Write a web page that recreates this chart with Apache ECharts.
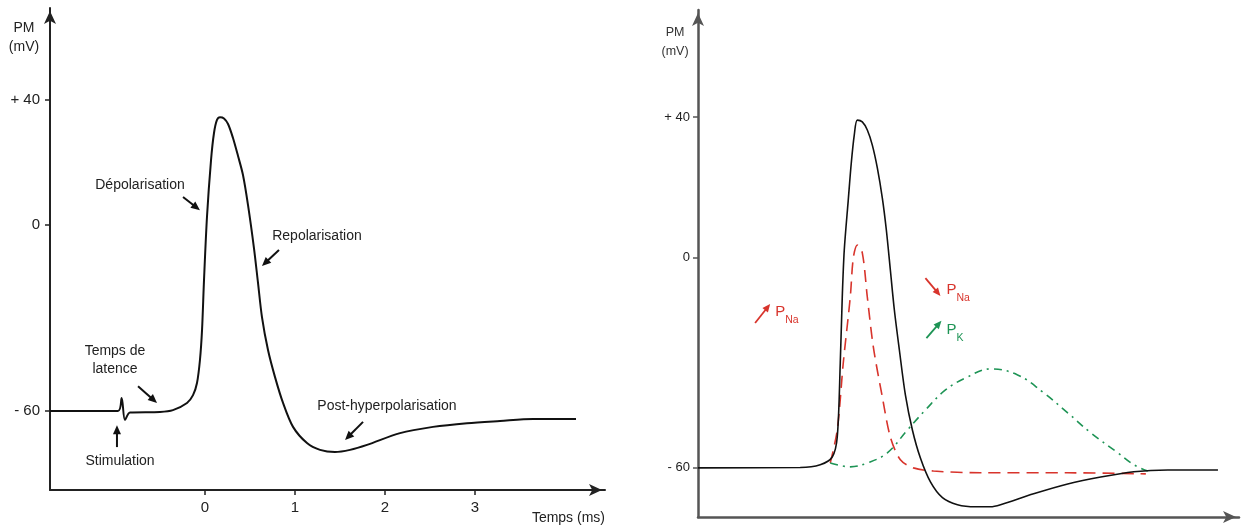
<!DOCTYPE html>
<html><head><meta charset="utf-8">
<script src="https://cdn.jsdelivr.net/npm/echarts@6/dist/echarts.min.js"></script>
<style>html,body{margin:0;padding:0;background:#fff}#c{width:1244px;height:528px}</style>
</head><body><div id="c"></div>
<script>
// ---- Left panel: action potential (time in ms, PM in mV)
const leftTime = [-1.722,-0.967,-0.926,-0.889,-0.833,-0.5,-0.356,-0.2,-0.133,-0.089,-0.056,-0.033,-0.011,0.022,0.067,0.1,0.133,0.167,0.211,0.256,0.311,0.367,0.422,0.478,0.544,0.589,0.633,0.7,0.778,0.867,0.978,1.133,1.278,1.444,1.611,1.8,2.167,2.533,2.911,3.278,3.644,4.122];
const leftPM   = [-60,-60,-55.8,-62.9,-60.5,-60.3,-59.7,-57.4,-54.9,-51.0,-43.6,-34.0,-17.9,2.4,20.7,29.4,33.6,34.5,34.1,32.3,27.8,22.0,15.9,6.2,-7.6,-18.8,-29.8,-40.4,-49.1,-57.4,-65.1,-70.3,-72.5,-73.2,-72.5,-70.9,-67.1,-65.1,-63.9,-63.2,-62.6,-62.6];
const leftXTicks = [0,1,2,3];
const yTicks = [40,0,-60];
const yTickLabels = ['+ 40','0','- 60'];

// ---- Right panel: potential and permeabilities (arbitrary time units)
const rightTime = [0,1.02,1.22,1.34,1.39,1.42,1.44,1.46,1.50,1.53,1.56,1.59,1.64,1.69,1.74,1.79,1.84,1.88,1.92,1.96,2.01,2.07,2.14,2.22,2.32,2.44,2.59,2.77,2.92,3.02,3.35,3.69,4.02,4.35,4.69,5.19];
const rightPM   = [-60,-59.9,-59.1,-56.9,-51.2,-30.1,-11.3,2.1,16.4,26.9,34.9,39.1,38.6,36.3,32.0,25.5,16.9,7.8,-3.6,-15.0,-26.4,-39.2,-49.2,-57.2,-64.0,-68.5,-70.5,-71.1,-71.1,-70.5,-67.4,-64.6,-62.6,-61.1,-60.6,-60.6];
const naTime = [1.32,1.39,1.45,1.52,1.55,1.59,1.64,1.69,1.75,1.84,1.92,2.02,2.15,2.35,2.82,3.69,4.47];
const naP    = [-58.6,-49.2,-30.1,-11.3,-0.2,3.5,1.3,-11.3,-25.5,-39.8,-51.2,-57.7,-60,-60.9,-61.4,-61.4,-61.7];
const kTime = [1.32,1.52,1.69,1.89,2.09,2.27,2.47,2.67,2.92,3.19,3.45,3.69,3.92,4.19,4.35,4.49];
const kP    = [-58.6,-59.7,-58.6,-55.7,-49.2,-43.5,-37.8,-34.4,-31.8,-33.5,-38.6,-44.3,-50.0,-55.7,-59.1,-60.9];

const FONT = '"Liberation Sans", Arial, sans-serif';
const INK = '#222';
const RED = '#d8342c';
const GREEN = '#1e9455';

const zip = (a,b) => a.map((v,i)=>[v,b[i]]);
const yLabel = v => { const i = yTicks.indexOf(v); return i>=0 ? yTickLabels[i] : ''; };

const chart = echarts.init(document.getElementById('c'), null, {renderer:'canvas'});

function yAxisCfg(grid, min, max, color, width, fs, margin){
  return {
    gridIndex:grid, type:'value', min:min, max:max,
    splitLine:{show:false},
    axisLine:{show:true, onZero:false, symbol:['none','arrow'], symbolSize:[9,13], symbolOffset:[0,-3],
      lineStyle:{color:color, width:width}},
    axisTick:{show:true, customValues:yTicks, length:5, lineStyle:{color:color, width:1.5}},
    axisLabel:{show:true, customValues:yTicks, formatter:yLabel, color:INK, fontSize:fs, fontFamily:FONT, margin:margin}
  };
}

chart.setOption({
  animation:false,
  backgroundColor:'#fff',
  grid:[{left:50, right:639, top:8, bottom:38},{left:698, right:5, top:10, bottom:11}],
  xAxis:[
    {gridIndex:0, type:'value', min:-1.722, max:4.444, splitLine:{show:false},
      axisLine:{show:true, onZero:false, symbol:['none','arrow'], symbolSize:[9,13], symbolOffset:[0,-3], lineStyle:{color:INK, width:2}},
      axisTick:{show:true, customValues:leftXTicks, length:5, lineStyle:{color:INK, width:1.5}},
      axisLabel:{show:true, customValues:leftXTicks, color:INK, fontSize:15, fontFamily:FONT, margin:10}},
    {gridIndex:1, type:'value', min:0, max:5.40, splitLine:{show:false},
      axisLine:{show:true, onZero:false, symbol:['none','arrow'], symbolSize:[9,13], symbolOffset:[0,-3], lineStyle:{color:'#555', width:2.5}},
      axisTick:{show:false}, axisLabel:{show:false}}
  ],
  yAxis:[
    yAxisCfg(0, -85.4, 69.6, INK, 2, 15, 10),
    yAxisCfg(1, -74.0, 70.5, '#555', 2.5, 13, 8)
  ],
  series:[
    {type:'line', xAxisIndex:0, yAxisIndex:0, data:zip(leftTime,leftPM), showSymbol:false, smooth:0.3,
      lineStyle:{color:'#111', width:2}},
    {type:'line', xAxisIndex:1, yAxisIndex:1, data:zip(naTime,naP), showSymbol:false, smooth:0.3, z:3,
      lineStyle:{color:RED, width:1.6, type:[12,7]}},
    {type:'line', xAxisIndex:1, yAxisIndex:1, data:zip(kTime,kP), showSymbol:false, smooth:0.4, z:3,
      lineStyle:{color:GREEN, width:1.6, type:[8,5,2,5]}},
    {type:'line', xAxisIndex:1, yAxisIndex:1, data:zip(rightTime,rightPM), showSymbol:false, smooth:0.3, z:4,
      lineStyle:{color:'#111', width:1.6}}
  ]
});

// ---- annotations (anchored in data coordinates)
const leftTexts = [
  {t:'Dépolarisation', at:[-0.722,12.7]},
  {t:'Repolarisation', at:[1.244,-3.7]},
  {t:'Temps de\nlatence', at:[-1.0,-43.6]},
  {t:'Stimulation', at:[-0.944,-76.1]},
  {t:'Post-hyperpolarisation', at:[2.022,-58.4]}
];
const leftArrows = [
  [[-0.244,8.8],[-0.056,4.6]],
  [[0.822,-8.2],[0.633,-13.4]],
  [[-0.744,-52.0],[-0.533,-57.4]],
  [[-0.978,-71.6],[-0.978,-64.6]],
  [[1.756,-63.5],[1.556,-69.3]]
];
const rightArrows = [
  {from:[0.57,-18.7], to:[0.72,-13.3], color:RED},
  {from:[2.27,-5.9], to:[2.42,-11.0], color:RED},
  {from:[2.28,-23.0], to:[2.43,-18.1], color:GREEN}
];
const rightTexts = [
  {at:[0.77,-15.6], sub:'Na', color:RED},
  {at:[2.48,-9.3], sub:'Na', color:RED},
  {at:[2.48,-20.7], sub:'K', color:GREEN}
];

function arrowEls(p0, p1, color, headLen, headW, lw){
  const dx=p1[0]-p0[0], dy=p1[1]-p0[1], L=Math.hypot(dx,dy), ux=dx/L, uy=dy/L;
  const bx=p1[0]-ux*headLen, by=p1[1]-uy*headLen;
  return [
    {type:'line', shape:{x1:p0[0],y1:p0[1],x2:bx+ux*1,y2:by+uy*1}, style:{stroke:color, lineWidth:lw}, z:10},
    {type:'polygon', shape:{points:[[p1[0],p1[1]],[bx-uy*headW/2,by+ux*headW/2],[bx+uy*headW/2,by-ux*headW/2]]}, style:{fill:color}, z:10}
  ];
}

const els = [];
leftTexts.forEach(a=>{
  const p = chart.convertToPixel({gridIndex:0}, a.at);
  els.push({type:'text', x:p[0], y:p[1], z:10, style:{text:a.t, fill:INK, fontSize:14, fontFamily:FONT, align:'center', verticalAlign:'middle', lineHeight:18}});
});
leftArrows.forEach(a=>{
  const p0 = chart.convertToPixel({gridIndex:0}, a[0]), p1 = chart.convertToPixel({gridIndex:0}, a[1]);
  els.push(...arrowEls(p0,p1,'#111',9,8,2));
});
rightArrows.forEach(a=>{
  const p0 = chart.convertToPixel({gridIndex:1}, a.from), p1 = chart.convertToPixel({gridIndex:1}, a.to);
  els.push(...arrowEls(p0,p1,a.color,8,7,1.8));
});
rightTexts.forEach(a=>{
  const p = chart.convertToPixel({gridIndex:1}, a.at);
  els.push({type:'text', x:p[0], y:p[1], z:10, style:{text:'P', fill:a.color, fontSize:15, fontFamily:FONT, align:'left', verticalAlign:'middle'}});
  els.push({type:'text', x:p[0]+10, y:p[1]+8, z:10, style:{text:a.sub, fill:a.color, fontSize:10.5, fontFamily:FONT, align:'left', verticalAlign:'middle'}});
});
// axis names
els.push({type:'text', x:24, y:37.5, style:{text:'PM\n(mV)', fill:INK, fontSize:14, fontFamily:FONT, align:'center', verticalAlign:'middle', lineHeight:19}});
els.push({type:'text', x:605, y:518, style:{text:'Temps (ms)', fill:INK, fontSize:14, fontFamily:FONT, align:'right', verticalAlign:'middle'}});
els.push({type:'text', x:675, y:42.5, style:{text:'PM\n(mV)', fill:'#333', fontSize:12.5, fontFamily:FONT, align:'center', verticalAlign:'middle', lineHeight:19}});

chart.setOption({graphic:{elements:els}});
</script>
</body></html>
